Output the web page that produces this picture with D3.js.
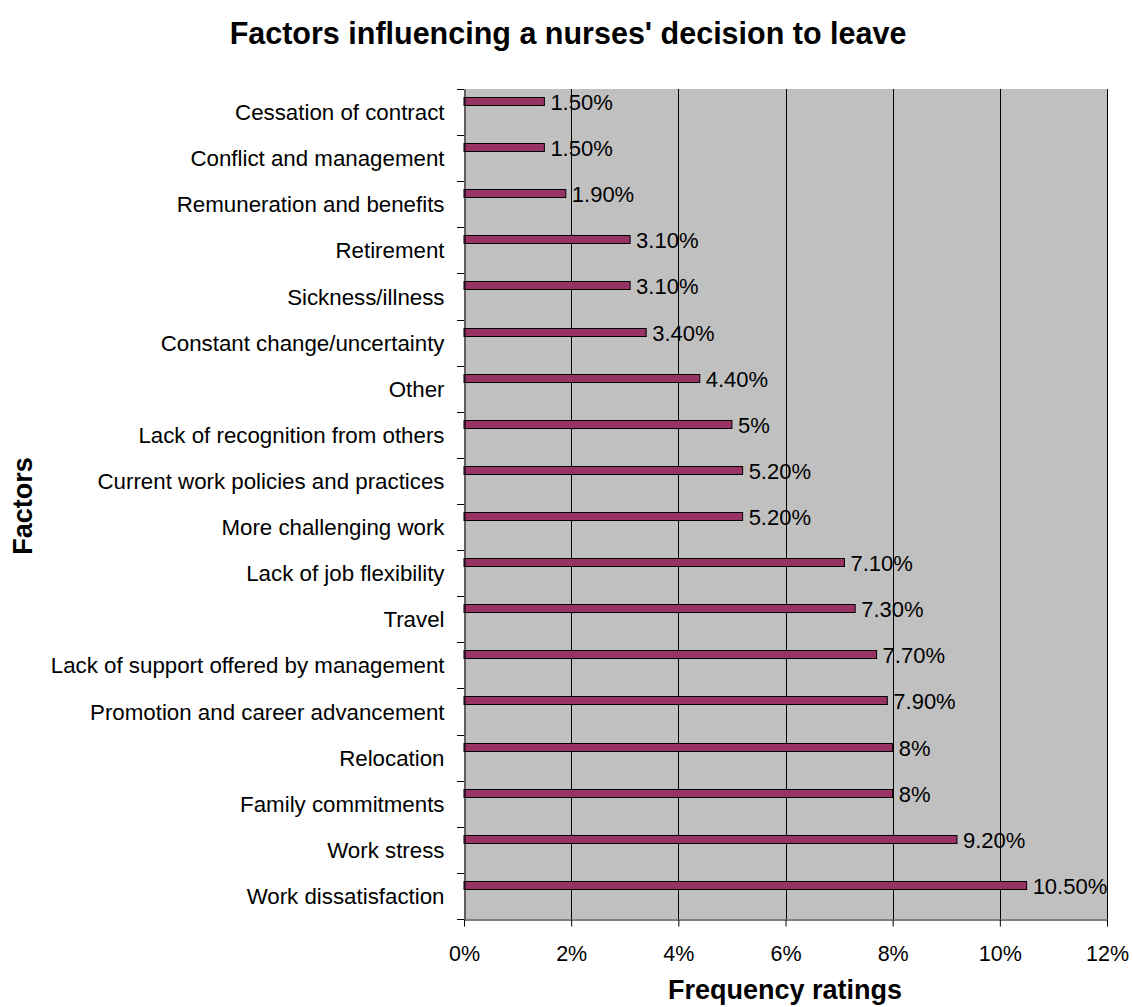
<!DOCTYPE html>
<html><head><meta charset="utf-8">
<script src="https://cdn.jsdelivr.net/npm/d3@7"></script>
<style>body{margin:0;background:#fff;} text{font-family:"Liberation Sans",Arial,sans-serif;}</style>
</head><body>
<svg id="c" width="1133" height="1007"></svg>
<script>
const categories = ["Cessation of contract","Conflict and management","Remuneration and benefits","Retirement","Sickness/illness","Constant change/uncertainty","Other","Lack of recognition from others","Current work policies and practices","More challenging work","Lack of job flexibility","Travel","Lack of support offered by management","Promotion and career advancement","Relocation","Family commitments","Work stress","Work dissatisfaction"];
const values = [1.5,1.5,1.9,3.1,3.1,3.4,4.4,5,5.2,5.2,7.1,7.3,7.7,7.9,8,8,9.2,10.5];
const valueLabels = ["1.50%","1.50%","1.90%","3.10%","3.10%","3.40%","4.40%","5%","5.20%","5.20%","7.10%","7.30%","7.70%","7.90%","8%","8%","9.20%","10.50%"];
const xTicks = [0,2,4,6,8,10,12];
const xTickLabels = ["0%","2%","4%","6%","8%","10%","12%"];

const FONT = "Liberation Sans, Arial, sans-serif";
const svg = d3.select("#c");
const L=464, R=1107, T=89, B=919;
const x = d3.scaleLinear().domain([0,12]).range([L,R]);
const y = d3.scaleBand().domain(categories).range([T,B]);

svg.append("rect").attr("x",L).attr("y",T).attr("width",R-L).attr("height",B-T).attr("fill","#c0c0c0");
svg.selectAll(".grid").data(xTicks.slice(1)).enter().append("line")
  .attr("x1",d=>Math.round(x(d))+0.5).attr("x2",d=>Math.round(x(d))+0.5).attr("y1",T).attr("y2",B).attr("stroke","#000").attr("stroke-width",1);

svg.selectAll(".bar").data(values).enter().append("rect")
  .attr("x",L).attr("y",(d,i)=>Math.round(y(categories[i]))+8.5)
  .attr("width",d=>x(d)-L).attr("height",8)
  .attr("fill","#993366").attr("stroke","#000").attr("stroke-width",1);

svg.selectAll(".vl").data(values).enter().append("text")
  .attr("x",d=>x(d)+6).attr("y",(d,i)=>Math.round(y(categories[i]))+21)
  .attr("font-size",22).attr("fill","#000")
  .text((d,i)=>valueLabels[i]);

// y axis
const ya = svg.append("g").attr("transform",`translate(${L+0.5},0)`)
  .call(d3.axisLeft(y).tickSize(0).tickPadding(20));
ya.select(".domain").attr("stroke","#000");
ya.selectAll("text").attr("font-size",22.3).attr("fill","#000").attr("font-family",FONT).attr("dy","0.36em");
const bounds = categories.map(c=>y(c)).concat([B]);
svg.selectAll(".yt").data(bounds).enter().append("line")
  .attr("x1",L-7).attr("x2",L).attr("y1",d=>Math.round(d)+0.5).attr("y2",d=>Math.round(d)+0.5).attr("stroke","#000");

// x axis
const xa = svg.append("g").attr("transform",`translate(0,${B+0.5})`)
  .call(d3.axisBottom(x).tickValues(xTicks).tickFormat((d,i)=>xTickLabels[i]).tickSizeOuter(0).tickSizeInner(7).tickPadding(10));
xa.select(".domain").attr("stroke","#000");
xa.selectAll("line").attr("stroke","#000");
xa.selectAll("text").attr("font-size",21.5).attr("fill","#000").attr("font-family",FONT).attr("dy",null).attr("y",41);

svg.append("text").attr("x",568).attr("y",44).attr("text-anchor","middle")
  .attr("font-size",30.5).attr("font-weight","bold").text("Factors influencing a nurses' decision to leave");
svg.append("text").attr("x",785).attr("y",999).attr("text-anchor","middle")
  .attr("font-size",27).attr("font-weight","bold").text("Frequency ratings");
svg.append("text").attr("transform","translate(32,506) rotate(-90)").attr("text-anchor","middle")
  .attr("font-size",27).attr("font-weight","bold").text("Factors");
</script>
</body></html>
